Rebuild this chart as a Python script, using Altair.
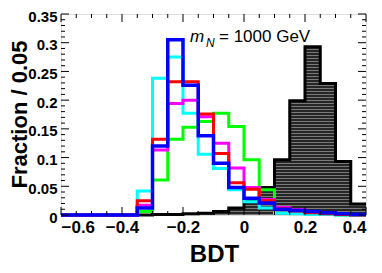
import altair as alt
import pandas as pd

# ---- data -------------------------------------------------------------
bin_left = [-0.6, -0.55, -0.5, -0.45, -0.4, -0.35, -0.3, -0.25, -0.2, -0.15,
            -0.1, -0.05, 0.0, 0.05, 0.1, 0.15, 0.2, 0.25, 0.3, 0.35]
last_edge = 0.4

bkg_black = [0, 0, 0, 0, 0, 0, 0.001, 0.001, 0.002, 0.003,
             0.006, 0.012, 0.025, 0.048, 0.096, 0.199, 0.293, 0.229, 0.093, 0.019]
sig_green = [0, 0, 0, 0, 0, 0.006, 0.061, 0.132, 0.153, 0.163,
             0.177, 0.154, 0.096, 0.044, 0.012, 0.005, 0.002, 0.001, 0, 0]
sig_cyan = [0, 0, 0, 0, 0, 0.042, 0.238, 0.275, 0.177, 0.106,
            0.081, 0.044, 0.023, 0.012, 0.003, 0.002, 0.001, 0.001, 0, 0]
sig_magenta = [0, 0, 0, 0, 0, 0.017, 0.113, 0.194, 0.200, 0.171,
               0.125, 0.082, 0.048, 0.027, 0.013, 0.009, 0.005, 0.003, 0.001, 0.001]
sig_red = [0, 0, 0, 0, 0, 0.025, 0.132, 0.232, 0.232, 0.176,
           0.107, 0.056, 0.045, 0.025, 0.011, 0.007, 0.004, 0.002, 0.001, 0]
sig_blue = [0, 0, 0, 0, 0, 0.012, 0.120, 0.305, 0.226, 0.138,
            0.090, 0.048, 0.029, 0.021, 0.010, 0.008, 0.006, 0.004, 0.002, 0.001]

x_major = [-0.6, -0.4, -0.2, 0.0, 0.2, 0.4]
x_minor = [-0.55, -0.5, -0.45, -0.35, -0.3, -0.25, -0.15, -0.1, -0.05,
           0.05, 0.1, 0.15, 0.25, 0.3, 0.35]
y_major = [0, 0.05, 0.1, 0.15, 0.2, 0.25, 0.3, 0.35]
y_minor = [0.01, 0.02, 0.03, 0.04, 0.06, 0.07, 0.08, 0.09, 0.11, 0.12, 0.13, 0.14,
           0.16, 0.17, 0.18, 0.19, 0.21, 0.22, 0.23, 0.24, 0.26, 0.27, 0.28, 0.29,
           0.31, 0.32, 0.33, 0.34]

x_title = "BDT"
y_title = "Fraction / 0.05"
label_m = "m"
label_N = "N"
label_rest = "= 1000 GeV"

W, H = 305, 201
FONT = "Liberation Sans"


def steps(vals):
    return pd.DataFrame({"x": bin_left + [last_edge], "y": vals + [vals[-1]]})


xscale = alt.Scale(domain=[-0.6, 0.4], nice=False, zero=False)
yscale = alt.Scale(domain=[0, 0.35], nice=False, zero=False)

xaxis = alt.Axis(values=x_major, format="~g", title=x_title, grid=False,
                 domain=False, ticks=False, labelFont=FONT, labelFontWeight="bold",
                 labelFontSize=17, labelColor="black", labelPadding=4,
                 titleFont=FONT, titleFontWeight="bold", titleFontSize=24,
                 titleColor="black", titleX=153, titleY=46,
                 titleBaseline="alphabetic", titleAnchor="middle")
yaxis = alt.Axis(values=y_major, format="~g", title=y_title, grid=False,
                 domain=False, ticks=False, labelFont=FONT, labelFontWeight="bold",
                 labelFontSize=15, labelColor="black", labelPadding=4, labelOffset=2,
                 titleFont=FONT, titleFontWeight="bold", titleFontSize=22,
                 titleColor="black", titleX=-42, titleY=100, titleAngle=-90,
                 titleBaseline="middle", titleAlign="center")

X = alt.X("x:Q", scale=xscale, axis=xaxis)
Y = alt.Y("y:Q", scale=yscale, axis=yaxis)

# striped fill for the background histogram
stops = []
n = 56
for i in range(n):
    a = i / n
    b = (i + 0.66) / n
    c = (i + 1) / n
    stops += [{"offset": a, "color": "#262626"}, {"offset": b, "color": "#262626"},
              {"offset": b, "color": "#7a7a7a"}, {"offset": c, "color": "#7a7a7a"}]
stripe = {"gradient": "linear", "x1": 0, "y1": 0, "x2": 0, "y2": 1, "stops": stops}

layers = []
layers.append(alt.Chart(steps(bkg_black)).mark_area(
    interpolate="step-after", fill=stripe).encode(x=X, y=Y))
layers.append(alt.Chart(steps(bkg_black)).mark_line(
    interpolate="step-after", color="black", strokeWidth=3).encode(x=X, y=Y))
for vals, col in [(sig_green, "#00ff00"), (sig_cyan, "#00ffff"),
                  (sig_magenta, "#ff00ff"), (sig_red, "#ff0000"),
                  (sig_blue, "#0000ff")]:
    layers.append(alt.Chart(steps(vals)).mark_line(
        interpolate="step-after", color=col,
        strokeWidth=3.5 if col == "#0000ff" else 3).encode(x=X, y=Y))


# inward ticks on all four sides
def xticks(vals, length):
    df = pd.DataFrame({"x": vals})
    bot = alt.Chart(df).mark_rule(color="black", strokeWidth=1).encode(
        x=X, y=alt.value(H), y2=alt.value(H - length))
    top = alt.Chart(df).mark_rule(color="black", strokeWidth=1).encode(
        x=X, y=alt.value(0), y2=alt.value(length))
    return [bot, top]


def yticks(vals, length):
    df = pd.DataFrame({"y": vals})
    left = alt.Chart(df).mark_rule(color="black", strokeWidth=1).encode(
        y=Y, x=alt.value(0), x2=alt.value(length))
    right = alt.Chart(df).mark_rule(color="black", strokeWidth=1).encode(
        y=Y, x=alt.value(W), x2=alt.value(W - length))
    return [left, right]


layers += xticks(x_major, 8) + xticks(x_minor, 4) + yticks(y_major, 8) + yticks(y_minor, 4)

layers.append(alt.Chart(pd.DataFrame({"t": [label_m]})).mark_text(
    font=FONT, fontStyle="italic", fontSize=17, align="left", baseline="alphabetic",
    color="black").encode(text="t:N", x=alt.value(129), y=alt.value(28)))
layers.append(alt.Chart(pd.DataFrame({"t": [label_N]})).mark_text(
    font=FONT, fontStyle="italic", fontSize=12, align="left", baseline="alphabetic",
    color="black").encode(text="t:N", x=alt.value(145), y=alt.value(33)))
layers.append(alt.Chart(pd.DataFrame({"t": [label_rest]})).mark_text(
    font=FONT, fontSize=17, align="left", baseline="alphabetic",
    color="black").encode(text="t:N", x=alt.value(158), y=alt.value(28)))

chart = alt.layer(*layers).properties(
    width=W, height=H,
    autosize=alt.AutoSizeParams(type="none"),
    padding={"left": 53, "top": 6, "right": 8, "bottom": 50},
).configure_view(stroke="black", strokeWidth=2).configure(background="white")

chart.save("out.html", embed_options={"renderer": "svg", "actions": False})
